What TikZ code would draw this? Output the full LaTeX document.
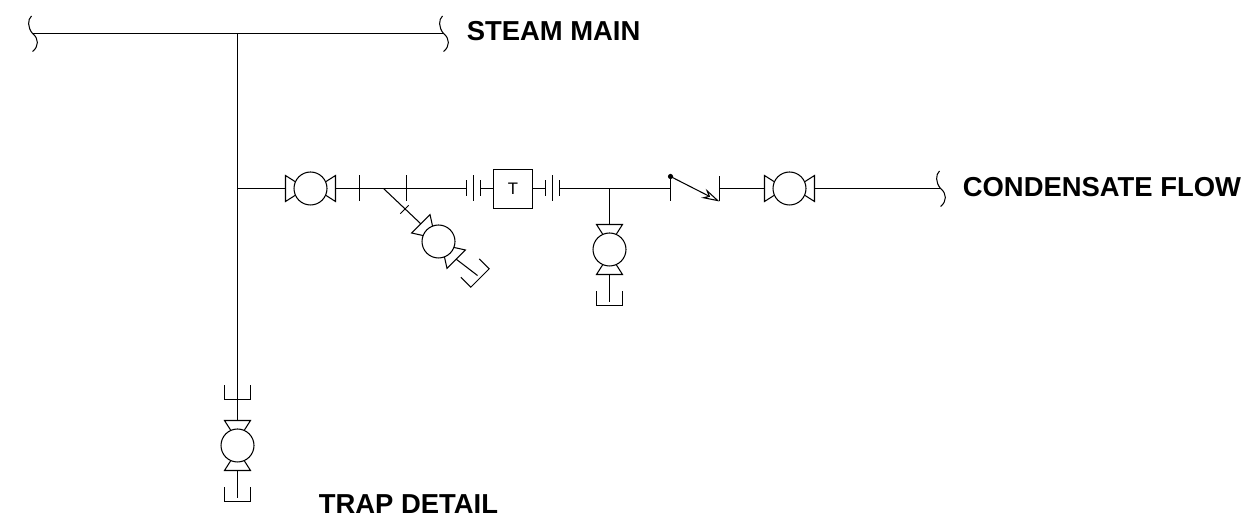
\documentclass[tikz,border=0pt]{standalone}
\usepackage{fontspec}
\usepackage{tikz}
\usetikzlibrary{arrows.meta}
\setmainfont{Liberation Sans}
\tikzset{
    pipe/.style={line width=0.6pt,black},
    valvebody/.style={circle,draw,pipe,minimum size=0.66cm,inner sep=0pt},
    tagtext/.style={anchor=west,font=\fontsize{15.6}{18}\selectfont\bfseries,inner sep=0pt},
    trapbox/.style={draw,pipe,minimum width=0.78cm,minimum height=0.78cm,inner sep=0pt,font=\fontsize{9.5}{11}\selectfont},
    gatevalve/.pic={
        \node[valvebody] (-body) at (0,0) {};
        \draw[pipe] (-14.8,-6.5) -- (-25,-13) -- (-25,13) -- (-14.8,6.5);
        \draw[pipe] (14.8,-6.5) -- (25,-13) -- (25,13) -- (14.8,6.5);
        \coordinate (-in) at (-25,0);
        \coordinate (-out) at (25,0);
    },
    pipecap/.pic={
        \draw[pipe] (-14,-13) -- (0,-13) -- (0,13) -- (-14,13);
        \coordinate (-in) at (0,0);
    },
    pipebreak/.pic={
        \draw[pipe] (-1,-17.5) .. controls (-5,-14) and (-5,-6) .. (0,0) .. controls (6.5,5) and (6.5,13) .. (0,18);
        \coordinate (-in) at (0,0);
    },
    flange/.pic={
        \draw[pipe] (-7,-8) -- (-7,8);
        \draw[pipe] (0,-13) -- (0,13);
        \draw[pipe] (7,-8) -- (7,8);
        \coordinate (-in) at (-7,0);
        \coordinate (-out) at (7,0);
    },
    flangetick/.pic={
        \draw[pipe] (0,-13) -- (0,13);
    },
    shorttick/.pic={
        \draw[pipe] (0,-6) -- (0,6);
    }
}
\begin{document}
\begin{tikzpicture}[x=0.02cm,y=-0.02cm,shift={(0.5,0.5)}]
        \useasboundingbox (-0.5,-0.5) rectangle (1257.5,518.5);
        % steam main and drop leg
        \pic (breakl) at (32,33) {pipebreak};
        \pic (breakr) at (443,33) {pipebreak};
        \coordinate (teemain) at (237,33);
        \coordinate (teeleg) at (237,188);
        \draw[pipe] (breakl-in) -- (breakr-in);
        \node[tagtext] (steam) at (466,30.5) {STEAM MAIN};
        \pic[rotate=-90] (vleg) at (237,445) {gatevalve};
        \pic[rotate=-90] (capup) at (237,399) {pipecap};
        \pic[rotate=-90] (capleg) at (237,501) {pipecap};
        \coordinate (legend) at (237,498);
        \draw[pipe] (teemain) -- (vleg-in);
        \draw[pipe] (vleg-out) -- (legend);
        \node[tagtext] (trapname) at (318,503.5) {TRAP DETAIL};
        % condensate line
        \pic (vone) at (310,188) {gatevalve};
        \pic (flone) at (473,188) {flange};
        \node[trapbox] (trap) at (512.5,188.5) {T};
        \pic (fltwo) at (552,188) {flange};
        \draw[pipe] (teeleg) -- (vone-in);
        \draw[pipe] (vone-out) -- (flone-in);
        \draw[pipe] (flone-out) -- (trap.west |- flone-out);
        \draw[pipe] (trap.east |- fltwo-in) -- (fltwo-in);
        \foreach \x in {359,406} {\pic at (\x,188) {flangetick};}
        % strainer blowdown
        \coordinate (teeblow) at (383,188);
        \pic[rotate=-45] (vblow) at (438,241) {gatevalve};
        \pic[rotate=-45] (capblow) at (479.5,277.5) {pipecap};
        \coordinate (blowend) at (477,275);
        \pic[rotate=-45] at (404,209) {shorttick};
        \draw[pipe] (teeblow) -- (vblow-in);
        \draw[pipe] (vblow-out) -- (blowend);
        % drain after trap
        \coordinate (teedrain) at (609,188);
        \pic[rotate=-90] (vdrain) at (609,249) {gatevalve};
        \pic[rotate=-90] (capdrain) at (609,305) {pipecap};
        \coordinate (drainend) at (609,302);
        \draw[pipe] (teedrain) -- (vdrain-in);
        \draw[pipe] (vdrain-out) -- (drainend);
        % check valve and outlet
        \coordinate (chkin) at (670,188);
        \coordinate (chkhinge) at (670,176);
        \coordinate (chkseat) at (719,201);
        \coordinate (chkout) at (719,188);
        \draw[pipe] (fltwo-out) -- (chkin);
        \draw[pipe] (chkhinge) -- (670,201);
        \draw[pipe] (719,176) -- (chkseat);
        \fill (chkhinge) circle (2.6);
        \draw[pipe,-{Stealth[open,length=0.36cm,width=0.2cm]}] (chkhinge) -- (chkseat);
        \pic (vtwo) at (789,188) {gatevalve};
        \pic (breako) at (940,188) {pipebreak};
        \draw[pipe] (chkout) -- (vtwo-in);
        \draw[pipe] (vtwo-out) -- (breako-in);
        \node[tagtext] (flow) at (962,187) {CONDENSATE FLOW};
    \end{tikzpicture}
\end{document}
